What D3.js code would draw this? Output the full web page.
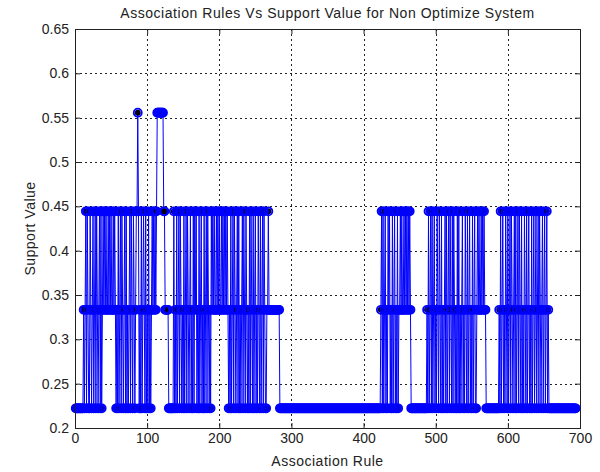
<!DOCTYPE html>
<html>
<head>
<meta charset="utf-8">
<script src="https://cdn.jsdelivr.net/npm/d3@7"></script>
<style>
  body { margin: 0; background: #fff; }
  text { font-family: "Liberation Sans", Arial, sans-serif; fill: #222; }
</style>
</head>
<body>
<svg id="chart" width="600" height="472"></svg>
<script>
// support levels that show up in the plot
var supportLevels = { "2": 0.2222, "3": 0.3333, "4": 0.4444, "5": 0.5556 };

// one character per association rule (rule 1, 2, 3 ...)
var ruleBlocks = [
  "22222222222",                                              // 1-11
  "3234243224323423424323424234",                             // 12-39
  "34343343434334343",                                        // 40-56
  "232423424323424232342432432344",                           // 57-86
  "5",                                                        // 87
  "423242343242324232",                                       // 88-105
  "34343434",                                                 // 106-113
  "555555555",                                                // 114-122
  "4433333",                                                  // 123-129
  "2222222",                                                  // 130-136
  "42324234243232423424323423242434232423423242342432324",    // 137-189
  "34343343434334343434343",                                  // 190-212
  "23242342432342423234243243232424324234232432423424322",    // 213-265
  "334333333333333333",                                       // 266-283
  "22222222222222222222222222222222222222222222222222222222222222222222222222222222222222222222222222222222222222222222222222222222222222222222", // 284-423
  "34242342324342324234232423",                               // 424-449
  "3434334343434343",                                         // 450-465
  "2222222222222222222222",                                   // 466-487
  "324234242342324324324232342423424324243232424232342324324234232423422", // 488-556
  "3434334343433",                                            // 557-569
  "222222222222222222",                                       // 570-587
  "324234232432423424323424234243242324324234232423423423424323423423423", // 588-656
  "22222222222222222222222222222222222222"                    // 657-694
];

var xTicks = [0, 100, 200, 300, 400, 500, 600, 700];
var xTickLabels = ["0", "100", "200", "300", "400", "500", "600", "700"];
var yTicks = [0.2, 0.25, 0.3, 0.35, 0.4, 0.45, 0.5, 0.55, 0.6, 0.65];
var yTickLabels = ["0.2", "0.25", "0.3", "0.35", "0.4", "0.45", "0.5", "0.55", "0.6", "0.65"];

var chartTitle = "Association Rules Vs Support Value for Non Optimize System";
var xTitle = "Association Rule";
var yTitle = "Support Value";

var support = ruleBlocks.join("").split("").map(function (c) { return supportLevels[c]; });

var margin = { top: 29, right: 20, bottom: 44, left: 75 };
var W = 600, H = 472;

var svg = d3.select("#chart");

var x = d3.scaleLinear().domain([0, 700]).range([margin.left, W - margin.right]);
var y = d3.scaleLinear().domain([0.2, 0.65]).range([H - margin.bottom, margin.top]);

// dotted grid
var grid = svg.append("g").attr("stroke", "#222").attr("stroke-width", 1).attr("stroke-dasharray", "2,3");
grid.selectAll(".gx").data(xTicks.slice(1, -1)).enter().append("line")
  .attr("x1", function (d) { return Math.round(x(d)) + 0.5; })
  .attr("x2", function (d) { return Math.round(x(d)) + 0.5; })
  .attr("y1", y(0.65)).attr("y2", y(0.2));
grid.selectAll(".gy").data(yTicks.slice(1, -1)).enter().append("line")
  .attr("y1", function (d) { return Math.round(y(d)) + 0.5; })
  .attr("y2", function (d) { return Math.round(y(d)) + 0.5; })
  .attr("x1", x(0)).attr("x2", x(700));

// the series line
var line = d3.line()
  .x(function (d, i) { return x(i + 1); })
  .y(function (d) { return y(d); });

svg.append("path").datum(support)
  .attr("d", line)
  .attr("fill", "none")
  .attr("stroke", "#0000ff")
  .attr("stroke-width", 1);

// markers: dark faces first, blue edges on top
svg.append("g").selectAll("circle").data(support).enter().append("circle")
  .attr("cx", function (d, i) { return x(i + 1); })
  .attr("cy", function (d) { return y(d); })
  .attr("r", 3.0)
  .attr("fill", "#000010");

svg.append("g").selectAll("circle").data(support).enter().append("circle")
  .attr("cx", function (d, i) { return x(i + 1); })
  .attr("cy", function (d) { return y(d); })
  .attr("r", 4.0)
  .attr("fill", "none")
  .attr("stroke", "#0000ff")
  .attr("stroke-width", 1.8);

// axes with inward ticks, MATLAB style box
function styleAxis(g) {
  g.select(".domain").remove();
  g.selectAll(".tick line").attr("stroke", "#222");
  g.selectAll(".tick text").attr("fill", "#222")
    .style("font-family", '"Liberation Sans", Arial, sans-serif')
    .style("font-size", "14px");
}

svg.append("g")
  .attr("transform", "translate(0," + y(0.2) + ")")
  .call(d3.axisBottom(x).tickValues(xTicks).tickSize(-5).tickPadding(5)
    .tickFormat(function (d, i) { return xTickLabels[i]; }))
  .call(styleAxis);

svg.append("g")
  .attr("transform", "translate(" + x(0) + ",0)")
  .call(d3.axisLeft(y).tickValues(yTicks).tickSize(-5).tickPadding(6)
    .tickFormat(function (d, i) { return yTickLabels[i]; }))
  .call(styleAxis);

svg.append("g")
  .attr("transform", "translate(0," + y(0.65) + ")")
  .call(d3.axisTop(x).tickValues(xTicks).tickSize(-5).tickFormat(""))
  .call(styleAxis);

svg.append("g")
  .attr("transform", "translate(" + x(700) + ",0)")
  .call(d3.axisRight(y).tickValues(yTicks).tickSize(-5).tickFormat(""))
  .call(styleAxis);

svg.append("rect")
  .attr("x", Math.round(x(0)) + 0.5).attr("y", Math.round(y(0.65)) + 0.5)
  .attr("width", Math.round(x(700) - x(0))).attr("height", Math.round(y(0.2) - y(0.65)))
  .attr("fill", "none").attr("stroke", "#222").attr("stroke-width", 1);

// titles
svg.append("text")
  .attr("x", (x(0) + x(700)) / 2).attr("y", 18)
  .attr("text-anchor", "middle")
  .style("font-size", "14px").style("letter-spacing", "0.55px")
  .text(chartTitle);

svg.append("text")
  .attr("x", (x(0) + x(700)) / 2).attr("y", 466)
  .attr("text-anchor", "middle")
  .style("font-size", "14px").style("letter-spacing", "0.5px")
  .text(xTitle);

svg.append("text")
  .attr("transform", "translate(35," + (y(0.2) + y(0.65)) / 2 + ") rotate(-90)")
  .attr("text-anchor", "middle")
  .style("font-size", "14px").style("letter-spacing", "0.5px")
  .text(yTitle);
</script>
</body>
</html>
